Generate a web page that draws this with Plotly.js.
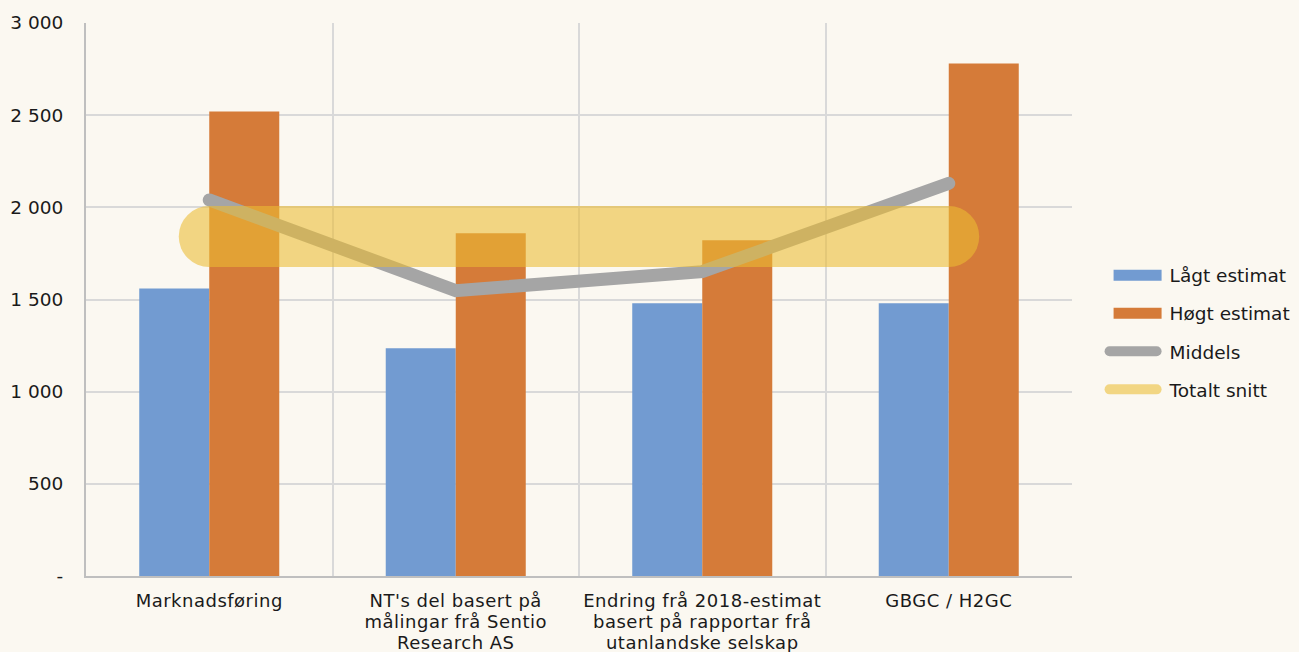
<!DOCTYPE html>
<html>
<head>
<meta charset="utf-8">
<script src="https://cdn.plot.ly/plotly-3.0.1.min.js"></script>
<style>
html,body{margin:0;padding:0;background:#fbf8f1;}
#chart{width:1299px;height:652px;}
</style>
</head>
<body>
<div id="chart"></div>
<script>
const categories = [
  "Marknadsføring",
  "NT's del basert på<br>målingar frå Sentio<br>Research AS",
  "Endring frå 2018-estimat<br>basert på rapportar frå<br>utanlandske selskap",
  "GBGC / H2GC"
];
const lowEstimate = [1560, 1235, 1480, 1480];
const highEstimate = [2520, 1860, 1822, 2780];
const middels = [2040, 1548, 1651, 2130];
const totaltSnitt = [1842, 1842, 1842, 1842];
const yTickVals = [0, 500, 1000, 1500, 2000, 2500, 3000];
const yTickText = ["-", "500", "1 000", "1 500", "2 000", "2 500", "3 000"];

const tickFont = {family: "DejaVu Sans", size: 18.5, color: "#1a1a1a"};
const catFont = {family: "DejaVu Sans", size: 18, color: "#1a1a1a"};

const traces = [
  {type: "bar", name: "Lågt estimat", x: categories, y: lowEstimate,
   marker: {color: "#729bd1"}, legendgroup: "a", hoverinfo: "y"},
  {type: "bar", name: "Høgt estimat", x: categories, y: highEstimate,
   marker: {color: "#d57b39"}, legendgroup: "b", hoverinfo: "y"},
  {type: "scatter", mode: "lines", name: "Middels", x: categories, y: middels,
   line: {color: "#a5a5a5", width: 13}, legendgroup: "c", hoverinfo: "y"},
  {type: "scatter", mode: "lines", name: "Totalt snitt", x: categories, y: totaltSnitt,
   line: {color: "rgb(236,189,51)", width: 61}, opacity: 0.58, legendgroup: "d", hoverinfo: "y"}
];

const layout = {
  width: 1299, height: 652,
  paper_bgcolor: "#fbf8f1", plot_bgcolor: "#fbf8f1",
  margin: {l: 86, r: 227, t: 23, b: 76, autoexpand: false},
  barmode: "group", bargap: 0.432, bargroupgap: 0,
  showlegend: true,
  legend: {x: 1.030, xanchor: "left", y: 0.44, yanchor: "middle",
           font: {family: "DejaVu Sans", size: 18.5, color: "#1a1a1a"},
           tracegroupgap: 11, itemwidth: 58, bgcolor: "rgba(0,0,0,0)"},
  xaxis: {type: "category", tickson: "boundaries", range: [-0.5, 3.5],
          showgrid: true, gridcolor: "#d9d9d9", gridwidth: 2,
          showline: true, linecolor: "#bfbfbf", linewidth: 2,
          ticks: "", tickfont: catFont, ticklabelstandoff: 7, fixedrange: true},
  yaxis: {range: [0, 3000], tickvals: yTickVals, ticktext: yTickText,
          showgrid: true, gridcolor: "#d9d9d9", gridwidth: 2,
          showline: true, linecolor: "#bfbfbf", linewidth: 2,
          zeroline: false, ticks: "", ticklabelstandoff: 17,
          tickfont: tickFont, fixedrange: true}
};

Plotly.newPlot("chart", traces, layout, {displayModeBar: false}).then(function(){
  document.querySelectorAll(".scatterlayer .js-line").forEach(function(p){
    p.style.strokeLinecap = "round";
  });
  document.querySelectorAll(".xtick text").forEach(function(t){
    t.style.letterSpacing = "0.5px";
    t.querySelectorAll("tspan.line").forEach(function(s, i){
      if (i > 0) s.setAttribute("dy", (i * 21) + "px");
    });
  });
  const legendTraces = document.querySelectorAll(".legend .traces");
  legendTraces.forEach(function(t, i){
    if (i < 2) {
      t.querySelectorAll(".legendpoints path").forEach(function(p){
        p.setAttribute("d", "M-22,-5.5h48v11h-48z");
      });
    } else {
      t.querySelectorAll(".legendlines path").forEach(function(p){
        p.setAttribute("d", "M8,0h47");
        p.style.strokeWidth = "10px";
        p.style.strokeLinecap = "round";
      });
    }
  });
});
</script>
</body>
</html>
